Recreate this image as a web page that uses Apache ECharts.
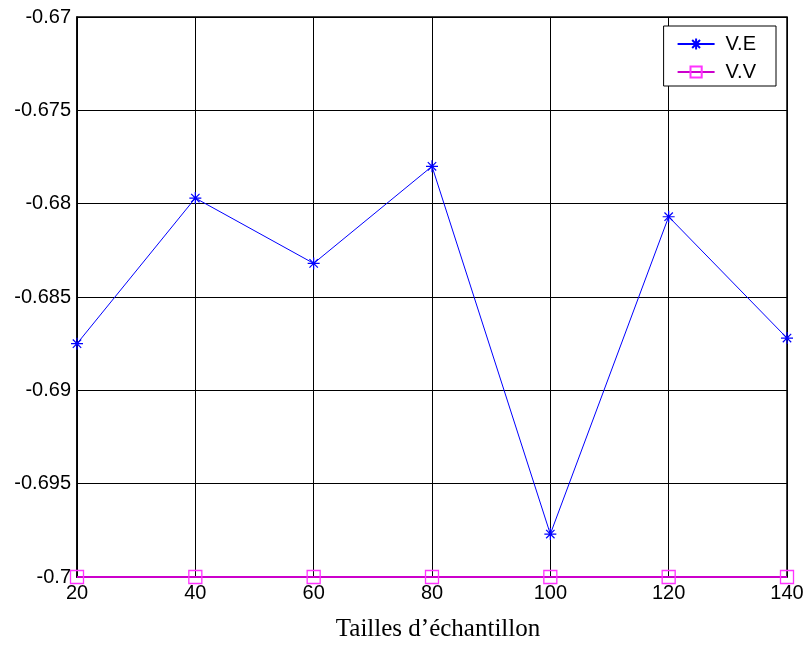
<!DOCTYPE html>
<html>
<head>
<meta charset="utf-8">
<script src="https://cdn.jsdelivr.net/npm/echarts@6/dist/echarts.min.js"></script>
<style>
  html, body { margin: 0; padding: 0; background: #fff; }
  #chart { width: 811px; height: 649px; }
</style>
</head>
<body>
<div id="chart"></div>
<script>
// Sample sizes and the two estimated series
const sampleSizes = [20, 40, 60, 80, 100, 120, 140];
const valuesVE = [-0.6875, -0.6797, -0.6832, -0.6780, -0.6977, -0.6807, -0.6872];
const valuesVV = [-0.7, -0.7, -0.7, -0.7, -0.7, -0.7, -0.7];
const seriesNames = ['V.E', 'V.V'];
const xTitle = 'Tailles d\u2019échantillon';

const asterisk = 'path://M0,-10L0,10M-10,0L10,0M-7,-7L7,7M-7,7L7,-7';
const sansFont = 'Arial, "Liberation Sans", sans-serif';

const chart = echarts.init(document.getElementById('chart'), null, { renderer: 'canvas' });

chart.setOption({
  animation: false,
  backgroundColor: '#ffffff',
  grid: { left: 77, right: 24, top: 17, bottom: 72, show: true, borderColor: '#000', borderWidth: 1.5 },
  legend: {
    right: 35, top: 26,
    orient: 'vertical',
    backgroundColor: '#fff',
    borderColor: '#000', borderWidth: 1,
    padding: [8, 20, 4, 13],
    itemGap: 8,
    itemWidth: 37, itemHeight: 14,
    textStyle: { fontFamily: sansFont, fontSize: 20, lineHeight: 20, color: '#000', padding: [0, 0, 0, 6] },
    data: seriesNames
  },
  xAxis: {
    type: 'value',
    min: 20, max: 140, interval: 20,
    name: xTitle,
    nameLocation: 'middle',
    nameGap: 40,
    nameTextStyle: { fontFamily: '"Liberation Serif", "Times New Roman", serif', fontSize: 25, color: '#000', padding: [0, 0, 0, 12] },
    axisLine: { show: true, lineStyle: { color: '#000', width: 1.5 } },
    axisTick: { show: false },
    axisLabel: { fontFamily: sansFont, fontSize: 20, color: '#000', margin: 6 },
    splitLine: { show: true, lineStyle: { color: '#000', width: 1 } }
  },
  yAxis: {
    type: 'value',
    min: -0.7, max: -0.67, interval: 0.005,
    axisLine: { show: true, lineStyle: { color: '#000', width: 1.5 } },
    axisTick: { show: false },
    axisLabel: {
      fontFamily: sansFont, fontSize: 20, color: '#000', margin: 6,
      formatter: v => String(+v.toFixed(3))
    },
    splitLine: { show: true, lineStyle: { color: '#000', width: 1 } }
  },
  series: [
    {
      name: seriesNames[0],
      type: 'line',
      data: sampleSizes.map((x, i) => [x, valuesVE[i]]),
      symbol: asterisk,
      symbolSize: 12,
      lineStyle: { color: '#0000ff', width: 1 },
      itemStyle: { color: '#0000ff', borderColor: '#0000ff', borderWidth: 1.2 },
      z: 3
    },
    {
      name: seriesNames[1],
      type: 'line',
      data: sampleSizes.map((x, i) => [x, valuesVV[i]]),
      symbol: 'rect',
      symbolSize: 13,
      showAllSymbol: true,
      lineStyle: { color: '#cc00cc', width: 2 },
      itemStyle: { color: 'rgba(0,0,0,0)', borderColor: '#ff33ff', borderWidth: 1.3 },
      z: 4
    }
  ]
});
</script>
</body>
</html>
